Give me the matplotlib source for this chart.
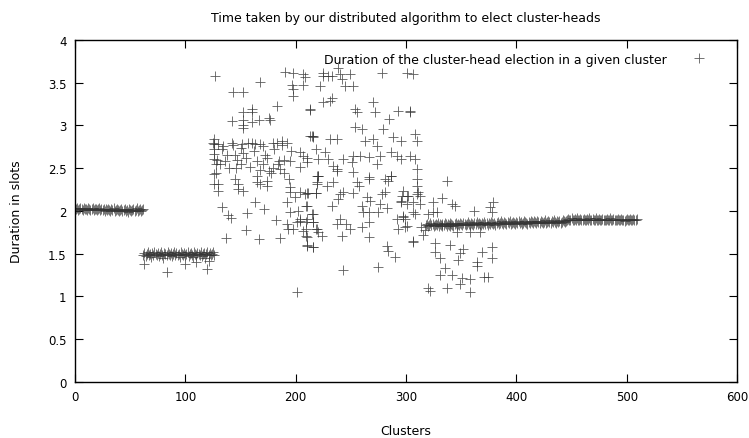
import matplotlib
matplotlib.use('Agg')
import matplotlib.pyplot as plt
import numpy as np

# flat part 1: clusters 0..62
band1_x = list(range(0, 63))
band1_y = [2.03, 2.02, 2.03, 2.01, 2.02, 2.04, 2.02, 2.01, 2.03, 2.02,
           2.02, 2.01, 2.03, 2.02, 2.01, 2.02, 2.04, 2.01, 2.02, 2.02,
           2.01, 2.02, 2.03, 2.01, 2.02, 2.01, 2.02, 2.00, 2.02, 2.01,
           2.02, 2.01, 2.00, 2.02, 2.01, 2.03, 2.00, 2.01, 2.02, 2.01,
           2.00, 2.01, 2.02, 2.00, 2.01, 2.02, 2.00, 2.01, 1.99, 2.02,
           2.01, 2.00, 2.01, 2.02, 2.00, 2.01, 2.03, 2.00, 2.01, 2.02,
           2.00, 2.01, 2.02]

# flat part 2: clusters 62..126
band2_x = list(range(62, 127))
band2_y = [1.49, 1.51, 1.47, 1.50, 1.52, 1.48, 1.50, 1.46, 1.51, 1.49,
           1.52, 1.50, 1.48, 1.51, 1.47, 1.50, 1.52, 1.49, 1.45, 1.51,
           1.50, 1.48, 1.52, 1.50, 1.49, 1.51, 1.47, 1.50, 1.52, 1.48,
           1.51, 1.49, 1.50, 1.46, 1.52, 1.50, 1.48, 1.51, 1.49, 1.50,
           1.52, 1.47, 1.50, 1.51, 1.49, 1.46, 1.52, 1.50, 1.48, 1.51,
           1.50, 1.49, 1.52, 1.47, 1.50, 1.51, 1.45, 1.50, 1.52, 1.49,
           1.51, 1.48, 1.50, 1.52, 1.49]

# flat part 3: clusters 318..509
band3_x = list(range(318, 510))
band3_y = [1.84, 1.85, 1.83, 1.84, 1.86, 1.84, 1.85, 1.83, 1.84, 1.85, 1.84, 1.86, 1.83, 1.85, 1.84, 1.85,
           1.84, 1.86, 1.85, 1.83, 1.85, 1.84, 1.86, 1.85, 1.84, 1.83, 1.85, 1.86, 1.84, 1.85, 1.84, 1.86,
           1.85, 1.84, 1.86, 1.85, 1.84, 1.85, 1.87, 1.85, 1.84, 1.86, 1.85, 1.84, 1.86, 1.85, 1.87, 1.85,
           1.86, 1.85, 1.84, 1.86, 1.85, 1.87, 1.85, 1.86, 1.84, 1.86, 1.85, 1.87, 1.86, 1.85, 1.86, 1.84,
           1.86, 1.87, 1.85, 1.86, 1.88, 1.86, 1.85, 1.87, 1.86, 1.85, 1.87, 1.86, 1.88, 1.85, 1.86, 1.87,
           1.86, 1.85, 1.87, 1.86, 1.88, 1.86, 1.87, 1.85, 1.86, 1.88, 1.87, 1.86, 1.85, 1.87, 1.86, 1.88,
           1.87, 1.86, 1.88, 1.87, 1.86, 1.88, 1.87, 1.86, 1.88, 1.87, 1.86, 1.87, 1.89, 1.86, 1.87, 1.88,
           1.87, 1.86, 1.88, 1.87, 1.89, 1.87, 1.86, 1.88, 1.87, 1.88, 1.86, 1.87, 1.89, 1.88, 1.87, 1.88,
           1.90, 1.91, 1.89, 1.90, 1.92, 1.90, 1.89, 1.91, 1.90, 1.92, 1.89, 1.90, 1.91, 1.90, 1.89, 1.91,
           1.90, 1.89, 1.91, 1.90, 1.92, 1.89, 1.90, 1.91, 1.89, 1.90, 1.92, 1.90, 1.89, 1.91, 1.90, 1.89,
           1.91, 1.90, 1.89, 1.90, 1.91, 1.89, 1.90, 1.92, 1.90, 1.89, 1.91, 1.90, 1.89, 1.90, 1.91, 1.89,
           1.90, 1.91, 1.89, 1.90, 1.88, 1.90, 1.91, 1.89, 1.90, 1.91, 1.89, 1.90, 1.91, 1.89, 1.90, 1.91]

# scattered clusters (read point by point)
scatter_x = [63, 83, 100, 110, 120, 121,
             127, 168, 143, 152, 190, 198, 207, 208, 197, 198, 207, 198,
             160, 160, 152, 183, 213, 142, 152, 152, 160, 167, 176, 177, 152,
             130, 130, 145, 148, 152, 148, 165, 165, 174, 174, 168, 163, 139, 156,
             137, 167, 186, 195, 195, 204, 210, 218, 199, 192,
             209, 195, 202, 204, 201, 192, 193, 198, 210, 215, 216, 219, 207, 210, 210, 216,
             201, 219, 219, 168, 176, 186,
             225, 229, 233, 225, 238, 249, 242, 252, 245, 240,
             222, 278, 301, 306, 213, 225, 233, 231,
             254, 256, 270, 272, 285, 293, 304, 304,
             254, 260, 279, 263, 270, 274,
             215, 216, 231, 237, 288, 295, 308, 310,
             204, 207, 218, 220, 227, 229, 210, 234, 243, 252, 251, 258, 266, 274, 276,
             286, 292, 295, 304, 308, 220, 252, 286, 266, 237, 310,
             220, 219, 228, 234, 237, 256, 257, 266, 281, 286, 284, 310, 310,
             208, 211, 218, 210, 240, 243, 238, 252, 233,
             204, 209, 216, 216, 218, 220, 224, 209, 209, 210, 216, 237, 240, 246, 249, 242,
             260, 261, 266, 260, 266, 266, 267, 275, 283, 276, 295, 301, 310, 292, 297, 293,
             301, 306, 283, 284, 290, 243, 275, 278, 281, 265,
             297, 296, 302, 311, 313, 295, 301, 306, 313, 324, 333, 342, 344, 297, 299, 306,
             308, 320, 324, 328, 362, 379, 376, 378, 299, 314, 317, 333, 340, 346, 358, 367,
             306, 315, 326, 326, 331, 340, 352, 349, 347, 369, 378, 378, 364, 364, 335, 331,
             342, 351, 358, 349, 371, 374, 337, 320, 322, 358, 337,
             125, 130, 134, 142, 143, 151, 160, 168, 170, 179, 183, 188, 192, 213, 216,
             129, 131, 138, 140, 147, 150, 152, 159, 165, 170, 174, 179, 184, 189, 195, 204, 210,
             126, 126, 126, 126, 126, 126, 126, 128, 128, 133, 136, 145, 150, 155, 157, 162,
             172, 180, 185, 188, 196, 133, 141, 155, 171, 182, 189, 146, 163, 178, 194]
scatter_y = [1.38, 1.29, 1.38, 1.40, 1.32, 1.41,
             3.58, 3.51, 3.39, 3.39, 3.63, 3.61, 3.60, 3.57, 3.47, 3.43, 3.47, 3.35,
             3.19, 3.16, 3.16, 3.23, 3.18, 3.05, 3.06, 3.00, 3.04, 3.07, 3.09, 3.06, 2.97,
             2.32, 2.23, 2.37, 2.32, 2.23, 2.26, 2.41, 2.34, 2.35, 2.29, 2.32, 2.11, 1.95, 1.98,
             1.68, 1.67, 1.68, 2.28, 2.22, 2.22, 2.21, 2.21, 2.16, 2.10,
             2.06, 1.99, 2.00, 1.91, 1.87, 1.85, 1.79, 1.79, 1.91, 1.96, 1.87, 1.79, 1.77, 1.70, 1.59, 1.58,
             1.05, 2.34, 2.41, 2.48, 2.47, 2.49,
             3.61, 3.58, 3.58, 3.58, 3.67, 3.60, 3.54, 3.46, 3.46, 3.60,
             3.46, 3.61, 3.61, 3.60, 3.19, 3.27, 3.32, 3.29,
             3.19, 3.16, 3.27, 3.16, 3.08, 3.17, 3.17, 3.16,
             2.98, 2.96, 2.96, 2.82, 2.84, 2.76,
             2.88, 2.88, 2.84, 2.84, 2.87, 2.82, 2.90, 2.82,
             2.69, 2.64, 2.73, 2.61, 2.69, 2.61, 2.57, 2.53, 2.61, 2.64, 2.57, 2.64, 2.63, 2.55, 2.64,
             2.69, 2.64, 2.61, 2.64, 2.61, 2.41, 2.46, 2.41, 2.40, 2.49, 2.49,
             2.41, 2.32, 2.29, 2.34, 2.47, 2.34, 2.29, 2.37, 2.37, 2.41, 2.35, 2.37, 2.29,
             2.20, 2.21, 2.21, 2.06, 2.20, 2.22, 2.14, 2.21, 2.06,
             1.88, 1.87, 1.96, 1.87, 1.79, 1.75, 1.71, 1.79, 1.71, 1.60, 1.58, 1.85, 1.91, 1.85, 1.79, 1.71,
             2.06, 1.99, 1.99, 1.81, 1.87, 1.70, 2.12, 1.99, 2.03, 2.08, 2.12, 2.18, 2.20, 1.91, 1.93, 1.79,
             1.82, 1.65, 1.59, 1.53, 1.46, 1.31, 1.35, 2.20, 2.22, 2.16,
             2.23, 2.17, 2.17, 2.22, 2.17, 2.11, 2.08, 2.11, 2.08, 2.11, 2.15, 2.08, 2.06, 1.94, 1.91, 1.99,
             1.97, 1.97, 1.99, 1.99, 2.00, 2.11, 2.05, 1.99, 1.81, 1.81, 1.78, 1.82, 1.82, 1.75, 1.75, 1.75,
             1.64, 1.72, 1.63, 1.52, 1.45, 1.60, 1.56, 1.51, 1.43, 1.52, 1.58, 1.45, 1.40, 1.36, 1.33, 1.25,
             1.25, 1.22, 1.21, 1.15, 1.23, 1.23, 1.10, 1.10, 1.06, 1.05, 2.35,
             2.80, 2.78, 2.76, 2.80, 2.77, 2.78, 2.80, 2.78, 2.76, 2.80, 2.80, 2.77, 2.80, 2.88, 2.86,
             2.60, 2.55, 2.65, 2.50, 2.60, 2.55, 2.68, 2.52, 2.58, 2.55, 2.62, 2.50, 2.55, 2.60, 2.58, 2.52, 2.62,
             2.84, 2.78, 2.73, 2.67, 2.61, 2.43, 2.32, 2.55, 2.45, 2.72, 2.58, 2.66, 2.74, 2.62, 2.80, 2.70,
             2.66, 2.72, 2.58, 2.82, 2.70, 2.05, 1.92, 1.78, 2.02, 1.90, 2.45, 2.50, 2.78, 2.45, 2.38]

all_x = band1_x + band2_x + band3_x + scatter_x
all_y = band1_y + band2_y + band3_y + scatter_y

plt.rcParams['font.family'] = ['DejaVu Sans']
plt.rcParams['font.size'] = 8.5

fig = plt.figure(figsize=(7.49, 4.39), dpi=100)
ax = fig.add_axes([0.1001, 0.1276, 0.884, 0.779])

ax.plot(all_x, all_y, linestyle='none', marker='+', markersize=6.5,
        markeredgewidth=0.6, color='#333333', alpha=0.8,
        label='Duration of the cluster-head election in a given cluster')

ax.set_xlim(0, 600)
ax.set_ylim(0, 4)
ax.set_xticks(np.arange(0, 601, 100))
ax.set_yticks(np.arange(0, 4.01, 0.5))
ax.set_yticklabels(['%g' % v for v in np.arange(0, 4.01, 0.5)])
ax.tick_params(direction='in', length=6, top=True, right=True, labelsize=8.5, pad=6)
for s in ax.spines.values():
    s.set_linewidth(1.0)

ax.set_title('Time taken by our distributed algorithm to elect cluster-heads', fontsize=9, pad=14)
ax.set_xlabel('Clusters', fontsize=9, labelpad=15)
ax.set_ylabel('Duration in slots', fontsize=9, labelpad=18)

ax.legend(loc='upper right', bbox_to_anchor=(0.97, 0.988), frameon=False,
          markerfirst=False, fontsize=9, handletextpad=1.8, borderaxespad=0.3,
          handlelength=1.5)

fig.savefig('out.png', dpi=100)
